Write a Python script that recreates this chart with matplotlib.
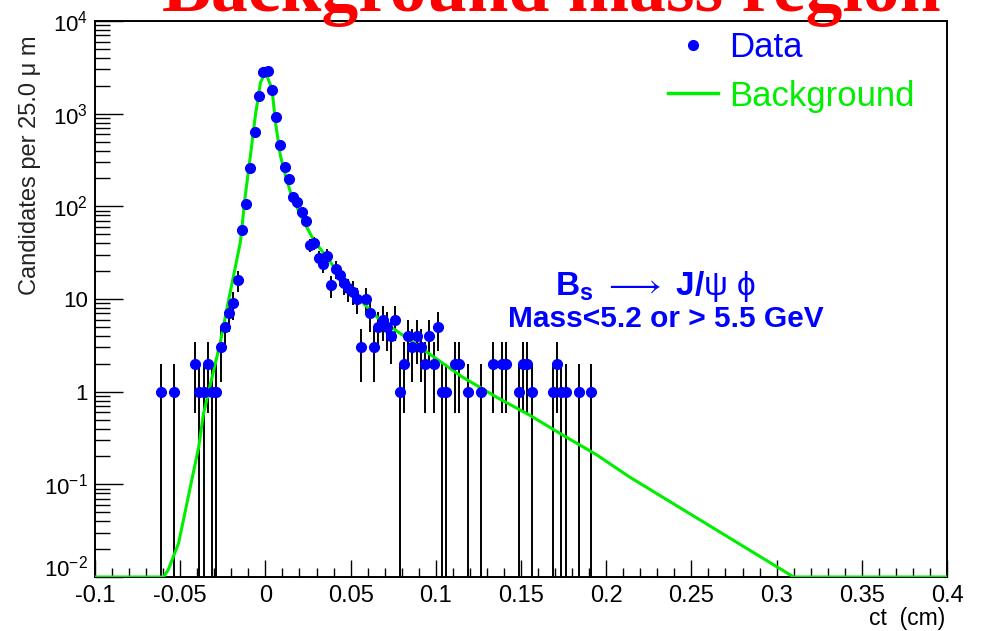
import numpy as np
import matplotlib
matplotlib.use("Agg")
import matplotlib.pyplot as plt
from matplotlib.lines import Line2D
from matplotlib.ticker import FixedLocator, FixedFormatter, LogLocator, NullFormatter, MultipleLocator

plt.rcParams['font.family'] = ['Liberation Sans', 'DejaVu Sans']
plt.rcParams['mathtext.fontset'] = 'custom'
plt.rcParams['mathtext.rm'] = 'Liberation Sans'
plt.rcParams['mathtext.it'] = 'Liberation Sans:italic'
plt.rcParams['mathtext.bf'] = 'Liberation Sans:bold'

# ---- data: bin centres (cm) and candidate counts (25 um bins) ----
ct = [-0.06125, -0.05375, -0.04125, -0.03875, -0.03625, -0.03375, -0.03125,
      -0.02875, -0.02625, -0.02375, -0.02125, -0.01875, -0.01625, -0.01375,
      -0.01125, -0.00875, -0.00625, -0.00375, -0.00125,
      0.00125, 0.00375, 0.00625, 0.00875, 0.01125, 0.01375, 0.01625, 0.01875,
      0.02125, 0.02375, 0.02625, 0.02875, 0.03125, 0.03375, 0.03625, 0.03875,
      0.04125, 0.04375, 0.04625, 0.04875, 0.05125, 0.05375, 0.05625, 0.05875,
      0.06125, 0.06375, 0.06625, 0.06875, 0.07125, 0.07375, 0.07625, 0.07875,
      0.08125, 0.08375, 0.08625, 0.08875, 0.09125, 0.09375, 0.09625, 0.09875,
      0.10125, 0.10375, 0.10625,
      0.11125, 0.11375, 0.11875, 0.12625, 0.13375, 0.13875, 0.14125, 0.14875,
      0.15125, 0.15375, 0.15625, 0.16875, 0.17125, 0.17375, 0.17625, 0.18375,
      0.19125]
counts = [1, 1, 2, 1, 1, 2, 1, 1, 3, 5, 7, 9, 16, 56, 105, 257, 628, 1535, 2800,
          2880, 1800, 910, 460, 265, 198, 125, 111, 86, 69, 38, 40, 28, 24, 29, 14,
          21, 18, 15, 13, 12, 10, 3, 10, 7, 3, 5, 6, 5, 4, 6, 1, 2, 4, 3, 4, 3, 2,
          4, 2, 5, 1, 1,
          2, 2, 1, 1, 2, 2, 2, 1, 2, 2, 1, 1, 2, 1, 1, 1, 1]

# background fit curve
fit_ct = [-0.1, -0.0598, -0.0570, -0.0510, -0.0392, -0.0363, -0.0314, -0.0265,
          -0.0216, -0.0147, -0.0118, -0.0088, -0.0059, -0.0029, 0.0, 0.0039,
          0.0059, 0.0088, 0.0118, 0.0147, 0.0206, 0.0284, 0.0382, 0.0480, 0.0578,
          0.0686, 0.0765, 0.0961, 0.1156, 0.1353, 0.1549, 0.1745, 0.1941, 0.2137,
          0.31, 0.4]
fit_val = [0.01, 0.01, 0.012, 0.023, 0.25, 0.58, 1.4, 3.4, 9.7, 41, 131, 352,
           950, 2170, 2800, 1845, 805, 352, 215, 142, 80, 43, 25, 14, 8.9, 5.6,
           4.6, 2.57, 1.44, 0.88, 0.56, 0.34, 0.21, 0.12, 0.01, 0.01]

x_ticks = [-0.1, -0.05, 0, 0.05, 0.1, 0.15, 0.2, 0.25, 0.3, 0.35, 0.4]
x_labels = ['-0.1', '-0.05', '0', '0.05', '0.1', '0.15', '0.2', '0.25', '0.3', '0.35', '0.4']
y_ticks = [1e-2, 1e-1, 1, 10, 1e2, 1e3, 1e4]
y_labels = [r'$\mathregular{10^{-2}}$', r'$\mathregular{10^{-1}}$', '1', '10',
            r'$\mathregular{10^{2}}$', r'$\mathregular{10^{3}}$', r'$\mathregular{10^{4}}$']

fig = plt.figure(figsize=(9.81, 6.31), dpi=100)
ax = fig.add_axes([95/981, 1-577/631, 852/981, 556/631])

ax.set_yscale('log')
ax.set_xlim(-0.1, 0.4)
ax.set_ylim(1e-2, 1e4)

c = np.array(counts, dtype=float)
err = np.sqrt(c)
lo = np.minimum(err, c - 1e-4)
ax.errorbar(ct, c, yerr=[lo, err], fmt='none', ecolor='black', elinewidth=1.4,
            capsize=0, zorder=2)
ax.plot(fit_ct, fit_val, color='#00ee00', lw=2.2, zorder=3)
ax.plot(ct, c, ls='none', marker='o', ms=7, color='#0000ff', mec='#0000ff', zorder=4)

# ticks
ax.xaxis.set_major_locator(FixedLocator(x_ticks))
ax.xaxis.set_major_formatter(FixedFormatter(x_labels))
ax.xaxis.set_minor_locator(MultipleLocator(0.01))
ax.yaxis.set_major_locator(FixedLocator(y_ticks))
ax.yaxis.set_major_formatter(FixedFormatter(y_labels))
ax.yaxis.set_minor_locator(LogLocator(base=10, subs=np.arange(2, 10)))
ax.yaxis.set_minor_formatter(NullFormatter())
ax.tick_params(axis='both', which='both', direction='in', top=False, right=False,
               width=1.0, color='black')
ax.tick_params(axis='x', which='major', length=12, labelsize=17, pad=6)
ax.tick_params(axis='x', which='minor', length=6.5)
ax.tick_params(axis='y', which='major', length=20, labelsize=16, pad=5)
ax.tick_params(axis='y', which='minor', length=10.5)
ax.yaxis.get_major_ticks()[0].label1.set_verticalalignment('baseline')
for s in ax.spines.values():
    s.set_linewidth(1.4)

fig.text(30/981, 1-165/631, 'Candidates per 25.0 \u03bc m', rotation=90,
         ha='center', va='center', fontsize=17, color='#222222')
fig.text(945/981, 1-619/631, 'ct  (cm)', ha='right', va='center', fontsize=16.5)

# title
fig.text(551/981, 1-11/631, 'Background mass region', ha='center', va='baseline',
         fontsize=53, color='#ff0000', fontweight='bold', family='Liberation Serif')

# legend
h_data = Line2D([], [], ls='none', marker='o', ms=7, color='#0000ff')
h_bkg = Line2D([], [], color='#00ee00', lw=2.5)
leg = ax.legend([h_data, h_bkg], ['Data', 'Background'], loc='upper left',
                bbox_to_anchor=((668-95)/852, (577-31)/556), frameon=False,
                fontsize=25, handlelength=1.45, handletextpad=0.3, labelspacing=0.45,
                borderpad=0, borderaxespad=0, labelcolor='linecolor')

# annotation
ax.text((655-95)/852, (577-286)/556,
        r'$\mathbf{B}_{\mathbf{s}}$ $\longrightarrow$ $\mathbf{J/}\mathrm{\psi}\ \mathrm{\phi}$',
        transform=ax.transAxes, ha='center', va='center', fontsize=24, color='#0000ff')
ax.text((666-95)/852, (577-319)/556, 'Mass<5.2 or > 5.5 GeV',
        transform=ax.transAxes, ha='center', va='center', fontsize=21.5,
        fontweight='bold', color='#0000ff')

fig.savefig('out.png', dpi=100)
